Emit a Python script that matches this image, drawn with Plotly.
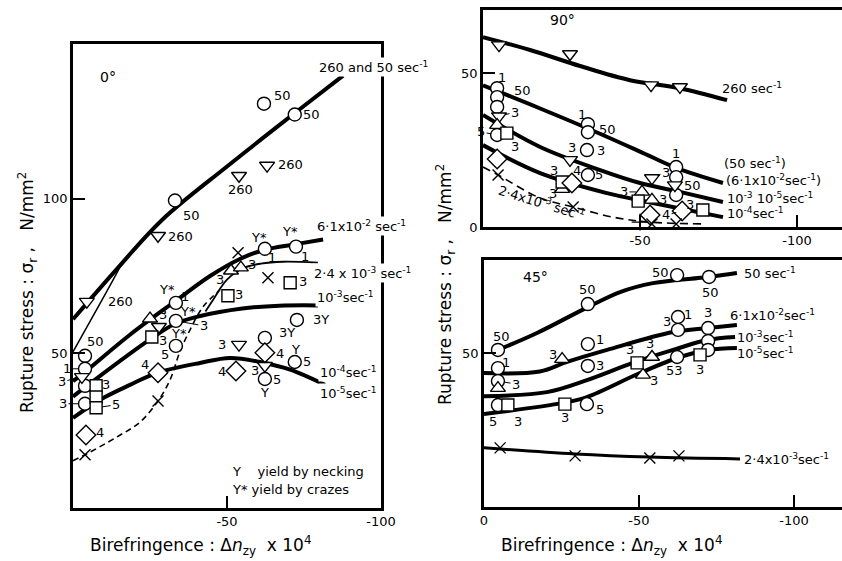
import plotly.graph_objects as go

FONT = "DejaVu Sans"

# ================= Panel A : 0 deg =================
A_c260_x = [0, -14, -29, -50, -71.4, -87.7]
A_c260_y = [61, 77, 93.2, 110.4, 127.2, 139.8]
A_thin_x = [0, -13.6, -15.8]
A_thin_y = [50.5, 74.8, 79]
A_c61_x = [0, -3.9, -18.5, -33.4, -44.5, -54.2, -62.3, -72.4, -81.2]
A_c61_y = [41, 44, 56, 67, 75, 80.5, 83.5, 85.3, 86.8]
A_c3_x = [0, -6.5, -25, -33, -41, -55, -67, -79.5]
A_c3_y = [36, 41, 54.5, 59.5, 62, 64.5, 65.4, 65.5]
A_c4_x = [0, -8.8, -18.5, -27.3, -41.2, -51, -60.7, -70.5, -81.8]
A_c4_y = [29.1, 35, 39.8, 43.7, 46.9, 48.5, 47.2, 44.7, 39.8]
A_dash_x = [0, -3.9, -14.3, -21.8, -27.6, -31.5, -34.7, -38, -42.2, -47.7]
A_dash_y = [15.3, 17.2, 23, 27.8, 34.6, 41.4, 50.5, 57.6, 65, 70.5]
A_c24_x = [-43, -45.5, -50, -55.2, -61, -68.2, -79.5]
A_c24_y = [63.5, 67.3, 73.8, 77.5, 79, 79.6, 79.3]

A_circ_x = [-3.9, -3.9, -3.9, -3.9, -33.1, -62, -72, -62.3, -72.4, -33.4, -33.4, -33.4, -72.7, -62.3, -72, -62.3]
A_circ_y = [49.2, 45, 39.5, 33.7, 99.4, 130.7, 127.2, 83.8, 84.5, 66.3, 60.5, 52.4, 60.8, 55, 47.2, 41.7]
A_tdn_x = [-4.5, -27.6, -53.9, -63, -2.9, -27.9, -53.9, -62.3]
A_tdn_y = [66.7, 88, 107.4, 110.7, 42.4, 58.6, 52.8, 46]
A_tup_x = [-25, -51.3, -54.5]
A_tup_y = [61.2, 76.7, 77.7]
A_sq_x = [-7.5, -7.5, -7.5, -25.6, -50.3, -70.5]
A_sq_y = [39.5, 35.9, 32.4, 55.3, 68.6, 72.8]
A_dia_x = [-4.2, -27.6, -52.9, -62.3]
A_dia_y = [23.6, 43.7, 44.3, 50.2]
A_x_x = [-3.9, -27.6, -53.6, -63.3]
A_x_y = [17.2, 34.6, 82.5, 74.4]

A_lab_text = ["50", "50", "50", "50", "1", "Y*", "1", "Y*", "1", "Y*", "Y*", "Y*", "5", "3Y", "3Y",
              "5", "Y", "5", "Y", "260", "260", "260", "260", "3", "3", "3", "3", "3", "3", "3", "3", "3",
              "4", "4", "4", "4"]
A_lab_x = [-7.3, -38.5, -68, -77.5, -64.6, -60.5, -75.3, -70.5, -36.4, -30.5, -37.2, -34.3, -30, -80.5, -69.5,
           -76, -72.3, -66.3, -62.3, -15.5, -35, -54.5, -70.5, -48.4, -59.2, -29.2, -47.7, -58.1, -10.6, -29.2, -53.8, -74.6,
           -8.8, -23.4, -48.4, -67.2]
A_lab_y = [53.9, 94.5, 133.5, 127.2, 80.9, 87.5, 81.2, 89.3, 68.4, 70.6, 63.4, 56.4, 49.5, 60.8, 56.8,
           47.2, 51.3, 41.4, 37.4, 66.7, 87.8, 102.9, 111, 52.8, 44.3, 62.5, 73.8, 78.6, 39.8, 54, 68.9, 73.1,
           24.3, 46.3, 44, 49.8]
# labels joined to their point by a short leader line
A_lead_text = ["1", "3", "3", "5", "3"]
A_lead_x = [-3.9, -2.9, -3.9, -7.5, -33.4]
A_lead_y = [45, 42.4, 33.7, 32.4, 60.5]

A_end_text = ["260 and 50 sec<sup>-1</sup>", "6·1x10<sup>-2</sup> sec<sup>-1</sup>",
              "2·4 x 10<sup>-3</sup> sec<sup>-1</sup>", "10<sup>-3</sup>sec<sup>-1</sup>",
              "10<sup>-4</sup>sec<sup>-1</sup>", "10<sup>-5</sup>sec<sup>-1</sup>"]
A_end_x = [-79.2, -78.6, -77.6, -78.6, -79.5, -79.5]
A_end_y = [142.7, 91.3, 76, 68.3, 44, 37.2]

# ================= Panel B : 90 deg =================
B_c260_x = [0, -15, -30.9, -46.8, -62.7, -77.7]
B_c260_y = [61.7, 57.5, 52.3, 47.7, 45.1, 41.2]
B_c61_x = [0, -18.2, -33.4, -50, -61.5, -76.4]
B_c61_y = [46, 38.5, 32, 24.5, 19.2, 14.3]
B_c35_x = [0, -18.2, -37.3, -50, -62.7, -76.4]
B_c35_y = [36.4, 26, 18.5, 14.3, 11.4, 8.1]
B_c4_x = [0, -18.2, -39.5, -54.1, -76.4]
B_c4_y = [26.6, 17.5, 11, 7.8, 3.2]
B_dash_x = [0, -4.8, -18.2, -28.7, -41.4, -53.2, -70]
B_dash_y = [19.5, 16.9, 9.4, 6.5, 3.2, 1.6, 1]

B_circ_x = [-4.5, -4.5, -4.5, -4.5, -33.4, -33.4, -33.1, -33.4, -61.5, -61.5, -61.5]
B_circ_y = [45.1, 42.2, 39, 29.9, 33.4, 30.8, 25, 16.9, 19.5, 16.2, 10.4]
B_tdn_x = [-5.1, -27.7, -53.5, -62.7, -5.1, -27.7, -61.1, -53.8]
B_tdn_y = [59.1, 56.2, 46.1, 45.5, 36, 21.8, 13.6, 15.9]
B_tup_x = [-4.5, -25.2, -50.6, -53.8]
B_tup_y = [33.1, 12.3, 11.4, 8.8]
B_sq_x = [-7.6, -25.2, -49.4, -70]
B_sq_y = [30.5, 14.6, 8.4, 5.5]
B_dia_x = [-4.5, -28.3, -53.2, -63.4]
B_dia_y = [22.1, 14.3, 3.9, 5.2]
B_x_x = [-4.8, -28.7, -53.8, -61.5]
B_x_y = [16.9, 6.5, 1, 1]
B_cr_x = [-50]
B_cr_y = [1.6]

B_lab_text = ["1", "50", "3", "1", "50", "3", "3", "3", "3", "4", "5", "1", "50", "3", "3"]
B_lab_x = [-6, -12.5, -10.2, -31.5, -39.5, -28.3, -37.5, -22.6, -22.3, -29.9, -36.8, -61.5, -66.8, -57.3, -66]
B_lab_y = [48.6, 44.5, 26, 36.6, 31.8, 25.8, 24.7, 18.5, 10.8, 18.4, 16.9, 23.8, 13.6, 8.8, 7.3]
B_lead_text = ["3", "5", "3", "3", "4"]
B_lead_x = [-5.1, -4.5, -53.8, -50.6, -63.4]
B_lead_y = [36, 29.9, 15.9, 11.4, 5.2]

B_end_text = ["260 sec<sup>-1</sup>", "(50 sec<sup>-1</sup>)", "(6·1x10<sup>-2</sup>sec<sup>-1</sup>)",
              "10<sup>-3</sup> 10<sup>-5</sup>sec<sup>-1</sup>", "10<sup>-4</sup>sec<sup>-1</sup>"]
B_end_x = [-75.5, -76.1, -76.8, -77.1, -77.1]
B_end_y = [45.1, 20.8, 15.3, 9.4, 4.5]

# ================= Panel C : 45 deg =================
C_c50_x = [-4.5, -17.1, -33.5, -43.9, -54.5, -72.3, -81.6]
C_c50_y = [51, 56.5, 64.9, 69.8, 72.7, 74.7, 76]
C_c61_x = [0, -18, -26.8, -39.7, -61, -72.3, -81.6]
C_c61_y = [43.5, 44, 47.1, 51, 56.8, 58.1, 59.1]
C_c3_x = [0, -20.3, -33.2, -48, -61, -71.9, -81]
C_c3_y = [36, 37.3, 41.2, 46.8, 51, 54.2, 55.2]
C_c5_x = [0, -25.5, -33.2, -50.3, -63.2, -72.3, -81.6]
C_c5_y = [30.2, 33.8, 35.7, 43.5, 48.7, 51, 51.6]
C_c24_x = [0, -29.4, -53.5, -82.6]
C_c24_y = [19.2, 17.2, 16.2, 15.6]

C_circ_x = [-4.5, -4.5, -4.5, -4.5, -33.5, -62.3, -72.6, -33.5, -62.6, -62.6, -72.3, -33.5, -72.3, -33.2, -62.3, -72.3]
C_circ_y = [51, 45.1, 40.9, 33.1, 65.9, 75.3, 74.7, 52.9, 61.7, 57.5, 58.1, 45.8, 53.9, 33.4, 48.7, 51]
C_tup_x = [-4.5, -25.2, -54.2, -51.3]
C_tup_y = [38.6, 48, 48.7, 42.9]
C_sq_x = [-7.7, -26.1, -49.4, -69.7]
C_sq_y = [33.1, 33.4, 46.8, 49.4]
C_x_x = [-5.2, -29.4, -53.5, -62.9]
C_x_y = [19.2, 16.6, 15.9, 16.6]

C_lab_text = ["50", "1", "5", "3", "50", "50", "50", "1", "3", "1", "3", "3", "5", "53", "3", "3", "3", "3", "3", "3"]
C_lab_x = [-5.8, -7, -3, -11, -33.5, -56.8, -73, -37.4, -59, -65.8, -72.3, -37.4, -37.4, -61.3,
           -22.3, -53.5, -54.8, -26.1, -47.1, -69.7]
C_lab_y = [55.5, 47, 27.6, 27.6, 70.5, 76.3, 69.8, 54.4, 60.3, 62.5, 63, 45.8, 31.8, 44.3,
           49.4, 53.2, 41.2, 29.2, 51.2, 44.5]
C_lead_text = ["3"]
C_lead_x = [-4.5]
C_lead_y = [40.9]

C_end_text = ["50 sec<sup>-1</sup>", "6·1x10<sup>-2</sup>sec<sup>-1</sup>", "10<sup>-3</sup>sec<sup>-1</sup>",
              "10<sup>-5</sup>sec<sup>-1</sup>", "2·4x10<sup>-3</sup>sec<sup>-1</sup>"]
C_end_x = [-83.2, -78.7, -81, -81, -83.2]
C_end_y = [76, 62.3, 55.2, 50, 15.6]

# ================= build figure =================
fig = go.Figure()


def curve(xs, ys, ax, width=4.0, dash="solid"):
    fig.add_trace(go.Scatter(x=xs, y=ys, mode="lines", xaxis="x" + ax, yaxis="y" + ax,
                             line=dict(color="black", width=width, dash=dash, shape="spline", smoothing=1.0),
                             showlegend=False, hoverinfo="skip", cliponaxis=True))


def pts(xs, ys, ax, symbol, size):
    filled = symbol in ("x-thin", "cross-thin")
    fig.add_trace(go.Scatter(x=xs, y=ys, mode="markers", xaxis="x" + ax, yaxis="y" + ax,
                             marker=dict(symbol=symbol, size=size, color="black" if filled else "white",
                                         line=dict(color="black", width=1.4)),
                             showlegend=False, hoverinfo="skip", cliponaxis=False))


ann = []


def labels(txt, xs, ys, ax, size=13, anchor="center", bg=None):
    for t, x, y in zip(txt, xs, ys):
        d = dict(x=x, y=y, xref="x" + ax, yref="y" + ax, text=t, showarrow=False,
                 xanchor=anchor, yanchor="middle", font=dict(family=FONT, size=size, color="black"))
        if bg:
            d["bgcolor"] = bg
        ann.append(d)


def leaders(txt, xs, ys, ax, offs):
    for t, x, y, (dx, dy) in zip(txt, xs, ys, offs):
        ann.append(dict(x=x, y=y, xref="x" + ax, yref="y" + ax, text=t, showarrow=True,
                        arrowhead=0, arrowwidth=1, arrowcolor="black", ax=dx, ay=dy, standoff=6,
                        font=dict(family=FONT, size=13, color="black")))


# Panel A (axis suffix "")
curve(A_c260_x, A_c260_y, "")
curve(A_thin_x, A_thin_y, "", width=1.5)
curve(A_c61_x, A_c61_y, "")
curve(A_c3_x, A_c3_y, "")
curve(A_c4_x, A_c4_y, "")
curve(A_dash_x, A_dash_y, "", width=1.6, dash="6px,4px")
curve(A_c24_x, A_c24_y, "", width=1.8)
pts(A_circ_x, A_circ_y, "", "circle", 13)
pts(A_tdn_x, A_tdn_y, "", "triangle-down", 13)
pts(A_tup_x, A_tup_y, "", "triangle-up", 13)
pts(A_sq_x, A_sq_y, "", "square", 12)
pts(A_dia_x, A_dia_y, "", "diamond", 15)
pts(A_x_x, A_x_y, "", "x-thin", 11)
labels(A_lab_text, A_lab_x, A_lab_y, "")
leaders(A_lead_text, A_lead_x, A_lead_y, "", [(-18, 0), (-20, 5), (-22, 0), (20, -3), (28, 5)])
labels(A_end_text, A_end_x, A_end_y, "", anchor="left", bg="white")
labels(["0°"], [-11.4], [139.2], "", size=14)
labels(["Y    yield by necking", "Y* yield by crazes"], [-51, -51], [11.7, 6.1], "", anchor="left")

# Panel B (axis suffix "2")
curve(B_c260_x, B_c260_y, "2")
curve(B_c61_x, B_c61_y, "2")
curve(B_c35_x, B_c35_y, "2")
curve(B_c4_x, B_c4_y, "2")
curve(B_dash_x, B_dash_y, "2", width=1.6, dash="8px,5px")
pts(B_circ_x, B_circ_y, "2", "circle", 13)
pts(B_tdn_x, B_tdn_y, "2", "triangle-down", 13)
pts(B_tup_x, B_tup_y, "2", "triangle-up", 13)
pts(B_sq_x, B_sq_y, "2", "square", 12)
pts(B_dia_x, B_dia_y, "2", "diamond", 15)
pts(B_x_x, B_x_y, "2", "x-thin", 11)
pts(B_cr_x, B_cr_y, "2", "cross-thin", 12)
labels(B_lab_text, B_lab_x, B_lab_y, "2")
leaders(B_lead_text, B_lead_x, B_lead_y, "2", [(16, -4), (-16, -3), (14, -6), (-18, 0), (-16, 4)])
labels(B_end_text, B_end_x, B_end_y, "2", anchor="left")
labels(["90°"], [-25.2], [67.2], "2", size=14)
ann.append(dict(x=-18.5, y=8.0, xref="x2", yref="y2", text="2·4x10<sup>-3</sup> sec<sup>-1</sup>",
                showarrow=False, textangle=17, font=dict(family=FONT, size=13, color="black")))

# Panel C (axis suffix "3")
curve(C_c50_x, C_c50_y, "3")
curve(C_c61_x, C_c61_y, "3")
curve(C_c3_x, C_c3_y, "3")
curve(C_c5_x, C_c5_y, "3")
curve(C_c24_x, C_c24_y, "3", width=3)
pts(C_circ_x, C_circ_y, "3", "circle", 13)
pts(C_tup_x, C_tup_y, "3", "triangle-up", 13)
pts(C_sq_x, C_sq_y, "3", "square", 12)
pts(C_x_x, C_x_y, "3", "x-thin", 11)
labels(C_lab_text, C_lab_x, C_lab_y, "3")
leaders(C_lead_text, C_lead_x, C_lead_y, "3", [(18, 3)])
labels(C_end_text, C_end_x, C_end_y, "3", anchor="left")
labels(["45°"], [-16.5], [74.7], "3", size=14)

# axis titles
xt = "Birefringence : Δ<i>n</i><sub>zy</sub>  x 10<sup>4</sup>"
yt = "Rupture stress : σ<sub>r</sub> ,   N/mm<sup>2</sup>"
for x, y, t, ang in [(0.2387, 0.028, xt, 0), (0.7268, 0.028, xt, 0),
                     (0.0333, 0.478, yt, -90), (0.5297, 0.492, yt, -90)]:
    ann.append(dict(x=x, y=y, xref="paper", yref="paper", text=t, showarrow=False, textangle=ang,
                    xanchor="center", yanchor="middle",
                    font=dict(family=FONT, size=17, color="black")))

axcommon = dict(showgrid=False, zeroline=False, showline=True, linecolor="black", linewidth=2.5,
                ticks="inside", ticklen=12, tickwidth=1.5, tickcolor="black", automargin=False,
                tickfont=dict(family=FONT, size=13, color="black"))

fig.update_layout(
    width=842, height=561, margin=dict(l=0, r=0, t=0, b=0, autoexpand=False),
    paper_bgcolor="white", plot_bgcolor="white", showlegend=False,
    font=dict(family=FONT, color="black"),
    xaxis=dict(domain=[73 / 842, 381 / 842], range=[0, -100], tickvals=[-50, -100],
               ticktext=["-50", "-100"], mirror=True, anchor="y", **axcommon),
    yaxis=dict(domain=[1 - 508 / 561, 1 - 44 / 561], range=[0, 150], tickvals=[50, 100],
               mirror=True, anchor="x", **axcommon),
    xaxis2=dict(domain=[483 / 842, 1.0], range=[0, -114.3], tickvals=[-50, -100],
                ticktext=["-50", "-100"], mirror=True, anchor="y2", **axcommon),
    yaxis2=dict(domain=[1 - 227 / 561, 1 - 10 / 561], range=[0, 70.5], tickvals=[0, 50],
                mirror=False, anchor="x2", **axcommon),
    xaxis3=dict(domain=[484 / 842, 1.0], range=[0, -115.5], tickvals=[0, -50, -100],
                ticktext=["0", "-50", "-100"], mirror=True, anchor="y3", **axcommon),
    yaxis3=dict(domain=[1 - 507 / 561, 1 - 260 / 561], range=[0, 80.2], tickvals=[50],
                mirror=False, anchor="x3", **axcommon),
    annotations=ann,
)

fig.write_html("out.html", config={"responsive": False, "displayModeBar": False},
               post_script="document.body.style.margin='0';document.body.style.overflow='hidden';")
